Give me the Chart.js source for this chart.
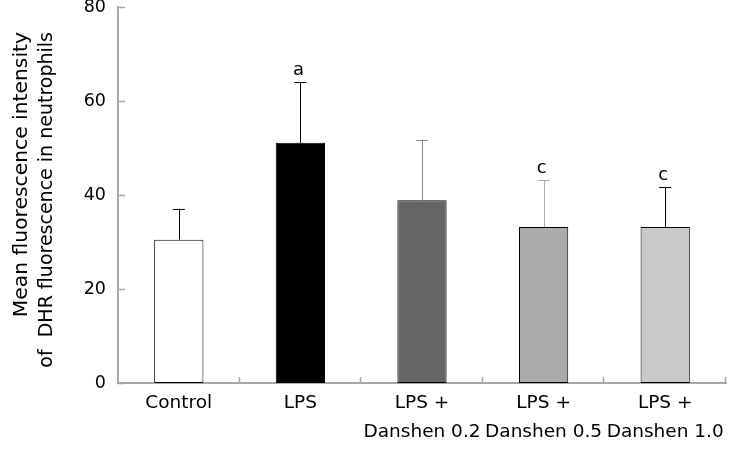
<!DOCTYPE html>
<html>
<head>
<meta charset="utf-8">
<script src="https://cdn.jsdelivr.net/npm/chart.js@4.4.1/dist/chart.umd.min.js"></script>
<style>
  html, body { margin: 0; padding: 0; background: #fff; }
  #wrap { width: 747px; height: 450px; }
</style>
</head>
<body>
<div id="wrap"><canvas id="chart"></canvas></div>
<script>
const categories = ['Control', 'LPS', ['LPS +', 'Danshen 0.2'], ['LPS +', 'Danshen 0.5'], ['LPS +', 'Danshen 1.0']];
const meanValues = [30.5, 51.1, 38.9, 33.2, 33.2];
const errorValues = [6.6, 12.9, 12.9, 10.0, 8.4];
const markLabels = ['', 'a', '', 'c', 'c'];
const yTicks = [0, 20, 40, 60, 80];
const yTitleLines = ['Mean fluorescence intensity', 'of  DHR fluorescence in neutrophils'];

const FONT = "'DejaVu Sans', Verdana, sans-serif";
const AXIS_GRAY = '#a8a8a8';

// upward error bars with caps, plus significance letters
const errorBarPlugin = {
  id: 'errorBars',
  afterDatasetsDraw(chart) {
    const { ctx, scales: { y } } = chart;
    const meta = chart.getDatasetMeta(0);
    const lineColors = ['#000000', '#000000', '#8a8a8a', '#a9a9a9', '#000000'];
    ctx.save();
    meta.data.forEach((bar, i) => {
      const top = y.getPixelForValue(meanValues[i]);
      const tip = y.getPixelForValue(meanValues[i] + errorValues[i]);
      ctx.strokeStyle = lineColors[i];
      ctx.lineWidth = 1;
      ctx.beginPath();
      ctx.moveTo(Math.round(bar.x) + 0.5, top);
      ctx.lineTo(Math.round(bar.x) + 0.5, tip);
      ctx.moveTo(bar.x - 6, Math.round(tip) + 0.5);
      ctx.lineTo(bar.x + 6, Math.round(tip) + 0.5);
      ctx.stroke();
      if (markLabels[i]) {
        ctx.fillStyle = '#000';
        ctx.font = `18px ${FONT}`;
        ctx.textAlign = 'center';
        ctx.textBaseline = 'alphabetic';
        ctx.fillText(markLabels[i], bar.x - 2, tip - 7);
      }
    });
    ctx.restore();
  }
};

// short tick marks pointing into the plot area
const innerTicksPlugin = {
  id: 'innerTicks',
  afterDraw(chart) {
    const { ctx, scales: { x, y } } = chart;
    ctx.save();
    ctx.strokeStyle = AXIS_GRAY;
    ctx.lineWidth = 1.5;
    ctx.beginPath();
    y.ticks.forEach((t) => {
      const py = Math.round(y.getPixelForValue(t.value)) + 0.5;
      ctx.moveTo(x.left, py);
      ctx.lineTo(x.left + 7, py);
    });
    const half = (x.getPixelForValue(1) - x.getPixelForValue(0)) / 2;
    categories.forEach((c, i) => {
      const px = Math.round(x.getPixelForValue(i) + half) - 0.5;
      ctx.moveTo(px, y.bottom);
      ctx.lineTo(px, y.bottom - 6);
    });
    ctx.stroke();
    ctx.restore();
  }
};

// two-line y title, end-aligned like the original
const yTitlePlugin = {
  id: 'yTitle',
  afterDraw(chart) {
    const { ctx } = chart;
    ctx.save();
    ctx.fillStyle = '#000';
    ctx.textAlign = 'right';
    ctx.textBaseline = 'alphabetic';
    [[27, 20.3], [52, 19]].forEach(([bx, size], i) => {
      ctx.save();
      ctx.font = `${size}px ${FONT}`;
      ctx.translate(bx, 32);
      ctx.rotate(-Math.PI / 2);
      ctx.fillText(yTitleLines[i], 0, 0);
      ctx.restore();
    });
    ctx.restore();
  }
};

new Chart(document.getElementById('chart'), {
  type: 'bar',
  data: {
    labels: categories,
    datasets: [{
      data: meanValues,
      backgroundColor: ['#ffffff', '#000000', '#666566', '#a9aaa9', '#c8c9cb'],
      borderColor: '#000000',
      borderWidth: 1,
      borderSkipped: false,
      barPercentage: 0.405,
      categoryPercentage: 1
    }]
  },
  options: {
    responsive: true,
    maintainAspectRatio: false,
    animation: false,
    layout: { padding: { top: 7, right: 21, bottom: 0, left: 0 } },
    plugins: {
      legend: { display: false },
      tooltip: { enabled: false }
    },
    scales: {
      y: {
        min: 0,
        max: 80,
        afterBuildTicks: (scale) => { scale.ticks = yTicks.map((v) => ({ value: v })); },
        afterFit: (scale) => {
          scale.width = 118;
          scale.paddingTop = 0;
          scale.paddingBottom = 0;
        },
        grid: { display: false, drawTicks: false },
        border: { display: true, color: AXIS_GRAY, width: 2 },
        ticks: {
          color: '#000',
          padding: 12,
          font: { family: FONT, size: 17.5 }
        }
      },
      x: {
        afterFit: (scale) => { scale.height = 67; },
        grid: { display: false, drawTicks: false },
        border: { display: true, color: AXIS_GRAY, width: 2 },
        ticks: {
          color: '#000',
          padding: 6,
          maxRotation: 0,
          autoSkip: false,
          font: { family: FONT, size: 18.5, lineHeight: 1.55 }
        }
      }
    }
  },
  plugins: [errorBarPlugin, innerTicksPlugin, yTitlePlugin]
});
</script>
</body>
</html>
